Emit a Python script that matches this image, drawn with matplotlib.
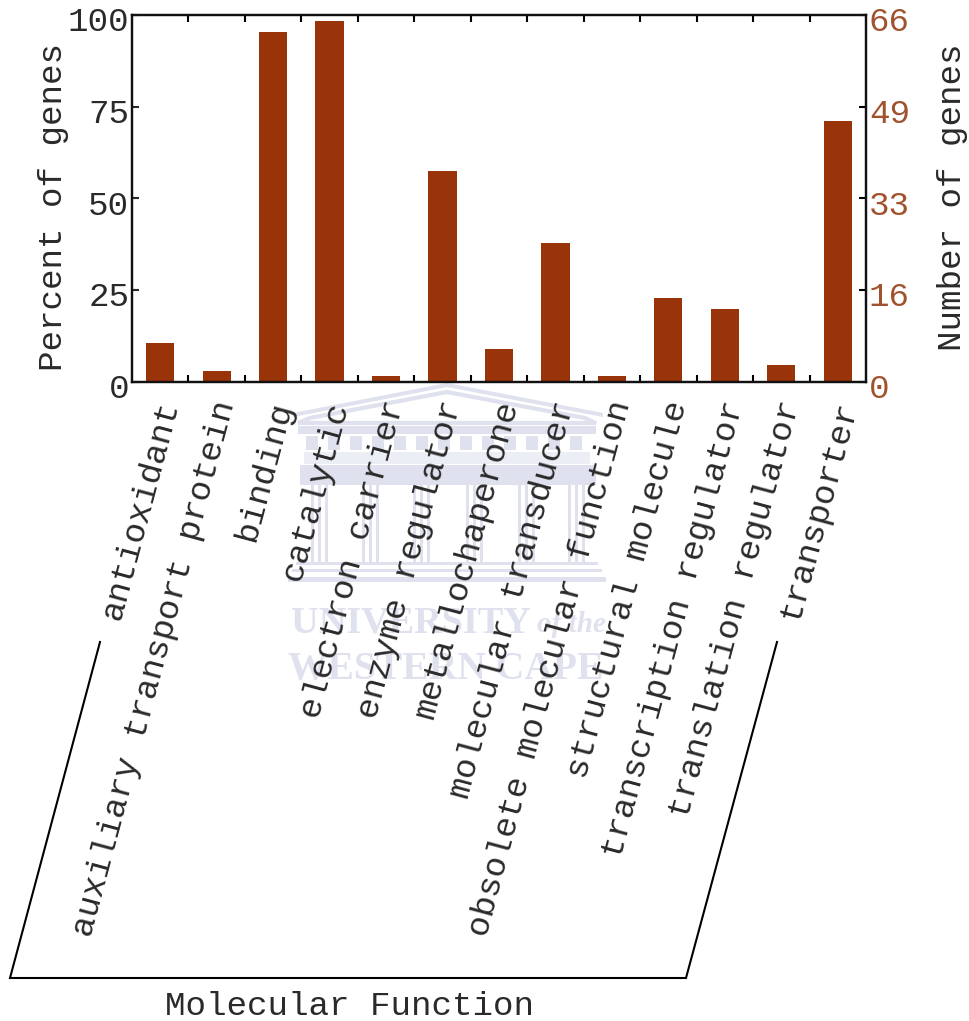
import matplotlib
matplotlib.use('Agg')
import matplotlib.pyplot as plt
from matplotlib.patches import Rectangle, Polygon
from matplotlib.transforms import ScaledTranslation

categories = ['antioxidant', 'auxiliary transport protein', 'binding', 'catalytic',
              'electron carrier', 'enzyme regulator', 'metallochaperone',
              'molecular transducer', 'obsolete molecular function',
              'structural molecule', 'transcription regulator',
              'translation regulator', 'transporter']
percent = [10.5, 3, 95.5, 98.5, 1.5, 57.5, 9, 38, 1.5, 23, 20, 4.5, 71]
left_ticks = [0, 25, 50, 75, 100]
right_labels = ['0', '16', '33', '49', '66']

W, H = 970, 1021
bar_color = '#99330a'
brown = '#a0522d'
wm = '#dfe1ee'
ink = '#2a2a2a'

plt.rcParams['font.family'] = ['Liberation Mono', 'DejaVu Sans Mono']
plt.rcParams['font.size'] = 24.7
fig = plt.figure(figsize=(W / 100, H / 100), dpi=100)

# watermark, behind everything else
bg = fig.add_axes([0, 0, 1, 1], zorder=0)
bg.set_xlim(0, W)
bg.set_ylim(H, 0)
bg.axis('off')
bg.add_patch(Polygon([[293, 413], [447, 383], [603, 413], [603, 417], [447, 387], [293, 417]],
                     color=wm, lw=0))
bg.add_patch(Polygon([[310, 418], [447, 392], [585, 418], [596, 423], [298, 423]],
                     facecolor='none', edgecolor=wm, lw=3))
bg.add_patch(Rectangle((298, 426), 298, 8, color=wm, lw=0))
for px in range(306, 590, 22):
    bg.add_patch(Rectangle((px, 436), 12, 14, color=wm, lw=0))
bg.add_patch(Rectangle((304, 452), 286, 12, color='#eceef5', lw=0))
bg.add_patch(Rectangle((300, 465), 296, 20, color=wm, lw=0))
for cx in [319, 370, 421, 474, 526, 576]:
    for off in [-8, -1, 6]:
        bg.add_patch(Rectangle((cx + off, 485), 3, 77, color=wm, lw=0))
bg.add_patch(Rectangle((296, 562), 302, 3, color=wm, lw=0))
bg.add_patch(Rectangle((292, 569), 310, 3, color=wm, lw=0))
bg.add_patch(Rectangle((288, 577), 318, 5, color=wm, lw=0))
bg.text(531, 623, 'UNIVERSITY', family='Liberation Serif', weight='bold', size=27.5,
        color=wm, ha='right', va='center')
bg.text(537, 624, 'of the', family='Liberation Serif', style='italic', weight='bold', size=21,
        color=wm, ha='left', va='center')
bg.text(446, 669, 'WESTERN CAPE', family='Liberation Serif', weight='bold', size=28.5,
        color=wm, ha='center', va='center')

# axes box in pixels of the reference
ax = fig.add_axes([132 / W, 1 - 382 / H, (866 - 132) / W, (382 - 15) / H], zorder=1,
                  facecolor='none')
x = range(len(categories))
ax.bar(x, percent, width=0.5, color=bar_color, zorder=2)
ax.set_xlim(-0.5, 12.5)
ax.set_ylim(0, 100)
ax.set_yticks(left_ticks)
ax.tick_params(axis='y', direction='in', length=5, width=1.5, pad=2, colors=ink)

ax.set_xticks(list(x))
ax.set_xticklabels(categories, rotation=75, ha='right', va='center',
                   rotation_mode='anchor', color=ink)
ax.tick_params(axis='x', which='major', length=0, pad=14)
ax.set_xticks([i + 0.5 for i in range(12)], minor=True)
ax.tick_params(axis='x', which='minor', direction='in', length=5, width=1.5, top=True)
for s in ax.spines.values():
    s.set_linewidth(1.6)
    s.set_color('#111111')

ax2 = ax.twinx()
ax2.set_ylim(0, 100)
ax2.set_yticks(left_ticks)
ax2.set_yticklabels(right_labels, color=brown)
ax2.tick_params(axis='y', direction='in', length=5, width=1.5, pad=2)
for s in ax2.spines.values():
    s.set_linewidth(1.6)
    s.set_color('#111111')

# small nudges of the tick labels, in pixels
down = ScaledTranslation(0, -4 / 100, fig.dpi_scale_trans)
right = ScaledTranslation(10 / 100, 0, fig.dpi_scale_trans)
for lab in ax.get_yticklabels() + ax2.get_yticklabels():
    lab.set_transform(lab.get_transform() + down)
for lab in ax.get_xticklabels():
    lab.set_transform(lab.get_transform() + right)

# overlay in pixel coordinates for the frame and titles
ov = fig.add_axes([0, 0, 1, 1], facecolor='none', zorder=2)
ov.set_xlim(0, W)
ov.set_ylim(H, 0)
ov.axis('off')
ov.plot([100, 10, 686, 777], [642, 978, 978, 642], color='black', lw=1.5,
        solid_joinstyle='miter')
ov.text(350, 1006, 'Molecular Function', ha='center', va='center', color=ink)
ov.text(54, 207, 'Percent of genes', rotation=90, ha='center', va='center', color=ink)
ov.text(953, 197, 'Number of genes', rotation=90, ha='center', va='center', color=ink)

fig.savefig('out.png', dpi=100)
